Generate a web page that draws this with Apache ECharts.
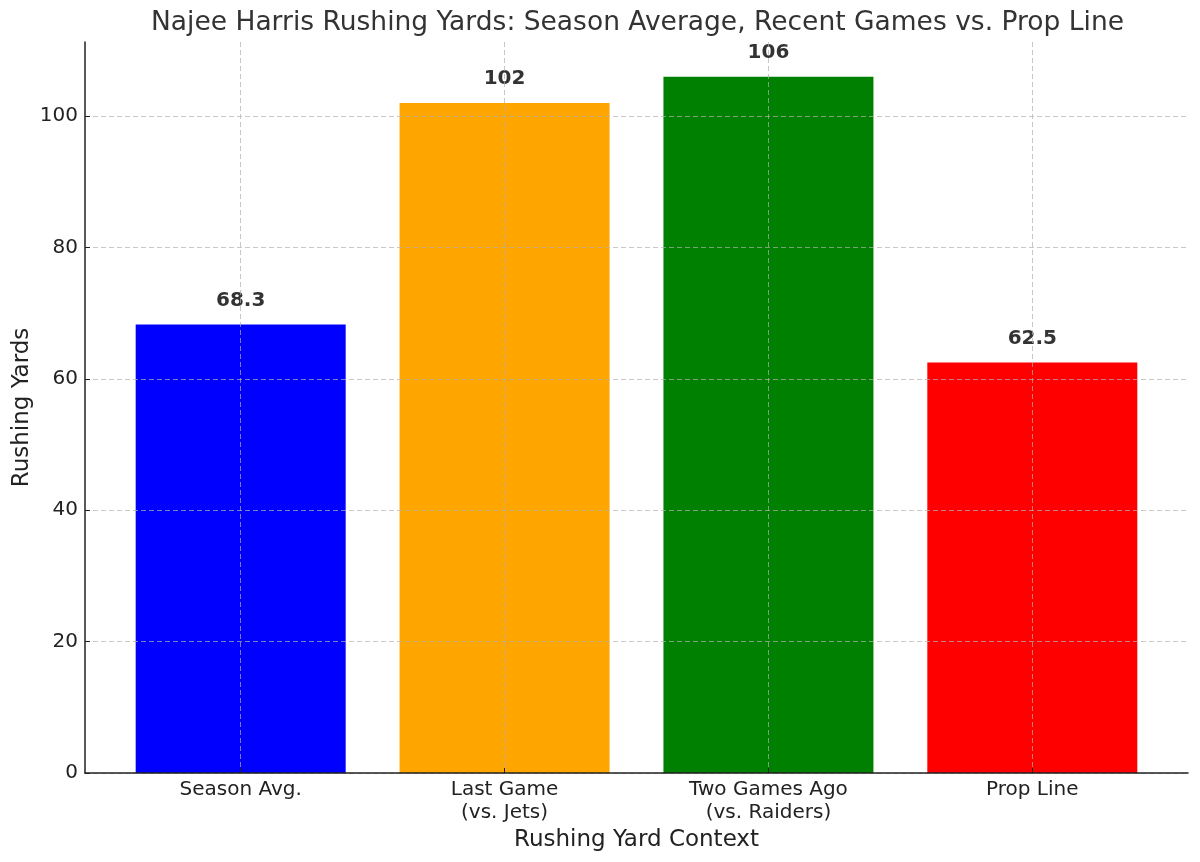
<!DOCTYPE html>
<html>
<head>
<meta charset="utf-8">
<script src="https://cdn.jsdelivr.net/npm/echarts@6/dist/echarts.min.js"></script>
<style>
  html, body { margin: 0; padding: 0; background: #fff; }
  #chart { width: 1200px; height: 862px; }
</style>
</head>
<body>
<div id="chart"></div>
<script>
const categories = ["Season Avg.", "Last Game\n(vs. Jets)", "Two Games Ago\n(vs. Raiders)", "Prop Line"];
const values = [68.3, 102, 106, 62.5];
const barColors = ["#0000ff", "#ffa500", "#008000", "#ff0000"];
const yTicks = [0, 20, 40, 60, 80, 100];
const xTicks = [0, 1, 2, 3];

const chart = echarts.init(document.getElementById("chart"), null, { renderer: "canvas" });

const gridLine = { show: true, lineStyle: { color: "rgba(176,176,176,0.7)", type: [5, 3], width: 1 } };
const font = "DejaVu Sans";

chart.setOption({
  animation: false,
  backgroundColor: "#fff",
  title: {
    text: "Najee Harris Rushing Yards: Season Average, Recent Games vs. Prop Line",
    left: 151,
    top: 10,
    padding: 0,
    textStyle: { fontFamily: font, fontSize: 26.5, fontWeight: "normal", color: "#333" }
  },
  grid: { left: 85, right: 12, top: 42, bottom: 89, outerBoundsMode: "none", containLabel: false },
  xAxis: {
    type: "value",
    min: -0.59,
    max: 3.59,
    z: 3,
    name: "Rushing Yard Context",
    nameLocation: "middle",
    nameGap: 54,
    nameTextStyle: { fontFamily: font, fontSize: 23, color: "#222" },
    axisLine: { show: true, onZero: false, lineStyle: { color: "#222", width: 1.5 } },
    axisTick: { show: true, inside: true, length: 5, customValues: xTicks, lineStyle: { color: "#222" } },
    axisLabel: {
      customValues: xTicks,
      margin: 5,
      fontFamily: font,
      fontSize: 20,
      lineHeight: 23,
      color: "#222",
      formatter: (v) => categories[Math.round(v)] ?? ""
    },
    splitLine: gridLine
  },
  yAxis: {
    type: "value",
    min: 0,
    max: 111.3,
    z: 3,
    name: "Rushing Yards",
    nameLocation: "middle",
    nameGap: 51,
    nameMoveOverlap: false,
    nameTextStyle: { fontFamily: font, fontSize: 23, color: "#222" },
    axisLine: { show: true, onZero: false, lineStyle: { color: "#222", width: 1.5 } },
    axisTick: { show: true, inside: true, length: 5, customValues: yTicks, lineStyle: { color: "#222" } },
    axisLabel: { customValues: yTicks, margin: 7, fontFamily: font, fontSize: 20, color: "#222" },
    splitLine: gridLine
  },
  series: [
    {
      type: "bar",
      barWidth: 210,
      z: 2,
      data: values.map((v, i) => ({ value: [i, v], itemStyle: { color: barColors[i] } })),
      label: {
        show: true,
        position: "top",
        distance: 14,
        fontFamily: font,
        fontSize: 20,
        fontWeight: "bold",
        color: "#333",
        formatter: (p) => String(p.value[1])
      }
    }
  ]
});
</script>
</body>
</html>
